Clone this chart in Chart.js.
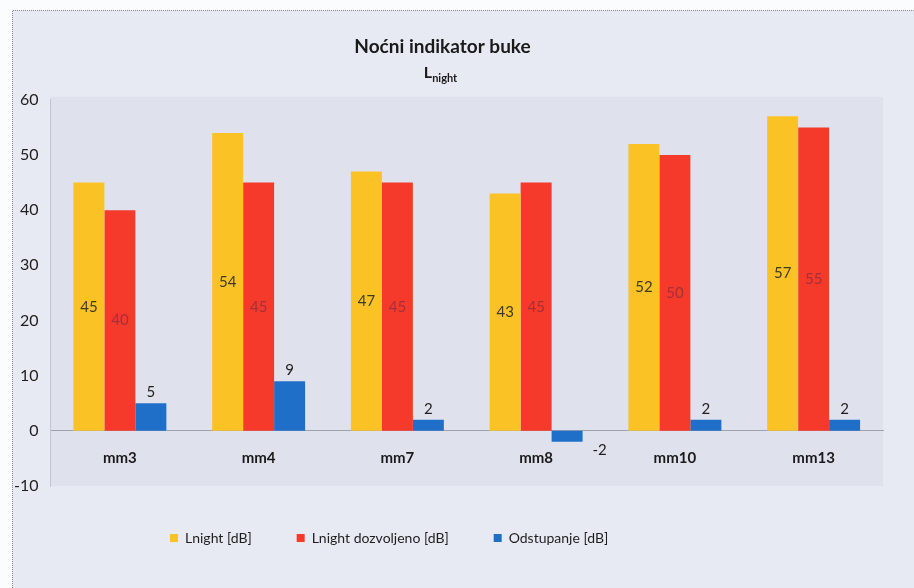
<!DOCTYPE html>
<html>
<head>
<meta charset="utf-8">
<script src="https://cdn.jsdelivr.net/npm/chart.js@4"></script>
<style>
  html, body { margin: 0; padding: 0; background: #fff; }
  #wrap { width: 914px; height: 588px; }
</style>
</head>
<body>
<div id="wrap"><canvas id="chart"></canvas></div>
<script>
// Chart data
const categories = ['mm3', 'mm4', 'mm7', 'mm8', 'mm10', 'mm13'];
const lnight = [45, 54, 47, 43, 52, 57];
const lnightAllowed = [40, 45, 45, 45, 50, 55];
const deviation = [5, 9, 2, -2, 2, 2];
const seriesNames = ['Lnight [dB]', 'Lnight dozvoljeno [dB]', 'Odstupanje [dB]'];
const yTicks = [-10, 0, 10, 20, 30, 40, 50, 60];

const colors = ['#fbc226', '#f5392b', '#1f6fc8'];
const labelColors = ['#3d3a26', '#a3303a', '#1e1e1e'];
const FONT = 'Lato, "Open Sans", sans-serif';

// Page and plot area backgrounds
const backgroundPlugin = {
  id: 'background',
  beforeDraw(chart) {
    const ctx = chart.ctx;
    const a = chart.chartArea;
    ctx.save();
    ctx.fillStyle = '#fbfcfd';
    ctx.fillRect(0, 0, chart.width, chart.height);
    ctx.fillStyle = '#e7eaf2';
    ctx.fillRect(12, 10, chart.width - 12, chart.height - 10);
    ctx.strokeStyle = '#8c8c8c';
    ctx.setLineDash([1, 1]);
    ctx.beginPath();
    ctx.moveTo(12.5, chart.height);
    ctx.lineTo(12.5, 10.5);
    ctx.lineTo(chart.width, 10.5);
    ctx.stroke();
    ctx.setLineDash([]);
    ctx.fillStyle = '#dfe2ed';
    ctx.fillRect(a.left, a.top - 3, a.right - a.left, a.bottom - a.top + 3);
    ctx.restore();
  }
};

// Move the legend to the left like in the original
const legendShift = {
  id: 'legendShift',
  afterLayout(chart) {
    chart.legend.left = 125;
  }
};

// Value labels on the bars
const valueLabels = {
  id: 'valueLabels',
  afterDatasetsDraw(chart) {
    const ctx = chart.ctx;
    ctx.save();
    ctx.font = '15px ' + FONT;
    ctx.textAlign = 'center';
    ctx.textBaseline = 'middle';
    chart.data.datasets.forEach((ds, i) => {
      const meta = chart.getDatasetMeta(i);
      meta.data.forEach((bar, j) => {
        const v = ds.data[j];
        const p = bar.getProps(['x', 'y', 'base', 'width'], true);
        let x = p.x, y;
        if (i < 2) {
          y = (p.y + p.base) / 2;
        } else if (v >= 0) {
          y = p.y - 11;
        } else {
          x = p.x + p.width / 2 + 17;
          y = p.y + 8;
        }
        ctx.fillStyle = labelColors[i];
        ctx.fillText(String(v), x, y);
      });
    });
    ctx.restore();
  }
};

// Second title line: L with subscript "night"
const subTitle = {
  id: 'subTitle',
  afterDraw(chart) {
    const ctx = chart.ctx;
    const tb = chart.titleBlock;
    const cx = (tb.left + tb.right) / 2 - 2;
    const y = tb.top + 78;
    ctx.save();
    ctx.fillStyle = '#1a1a1a';
    ctx.textBaseline = 'alphabetic';
    ctx.font = 'bold 16px ' + FONT;
    const wL = ctx.measureText('L').width;
    ctx.font = 'bold 11px ' + FONT;
    const wN = ctx.measureText('night').width;
    const x0 = cx - (wL + wN) / 2;
    ctx.font = 'bold 16px ' + FONT;
    ctx.textAlign = 'left';
    ctx.fillText('L', x0, y);
    ctx.font = 'bold 11px ' + FONT;
    ctx.fillText('night', x0 + wL, y + 4);
    ctx.restore();
  }
};

new Chart(document.getElementById('chart'), {
  type: 'bar',
  data: {
    labels: categories,
    datasets: [
      { label: seriesNames[0], data: lnight, backgroundColor: colors[0] },
      { label: seriesNames[1], data: lnightAllowed, backgroundColor: colors[1] },
      { label: seriesNames[2], data: deviation, backgroundColor: colors[2] }
    ]
  },
  options: {
    responsive: true,
    maintainAspectRatio: false,
    animation: false,
    layout: { padding: { left: 2, right: 31, top: 0, bottom: 33 } },
    datasets: { bar: { barPercentage: 1, categoryPercentage: 0.67 } },
    scales: {
      x: {
        position: { y: 0 },
        grid: { display: false, drawTicks: false },
        border: { display: true, color: '#9ea3b0', width: 1 },
        ticks: { padding: 18, color: '#1a1a1a', font: { family: FONT, size: 15, weight: 'bold' } }
      },
      y: {
        min: yTicks[0],
        max: yTicks[yTicks.length - 1],
        grid: { display: false, drawTicks: false },
        border: { display: true, color: '#c2c6d2' },
        ticks: { stepSize: yTicks[1] - yTicks[0], padding: 12, color: '#1e1e1e', font: { family: FONT, size: 16 } }
      }
    },
    plugins: {
      title: {
        display: true,
        text: 'Noćni indikator buke',
        color: '#1a1a1a',
        font: { family: FONT, size: 19, weight: 'bold' },
        padding: { top: 35, bottom: 42 }
      },
      legend: {
        position: 'bottom',
        align: 'start',
        labels: {
          boxWidth: 8,
          boxHeight: 8,
          padding: 45,
          color: '#1e1e1e',
          font: { family: FONT, size: 14 }
        }
      },
      tooltip: { enabled: false }
    }
  },
  plugins: [backgroundPlugin, legendShift, valueLabels, subTitle]
});
</script>
</body>
</html>
